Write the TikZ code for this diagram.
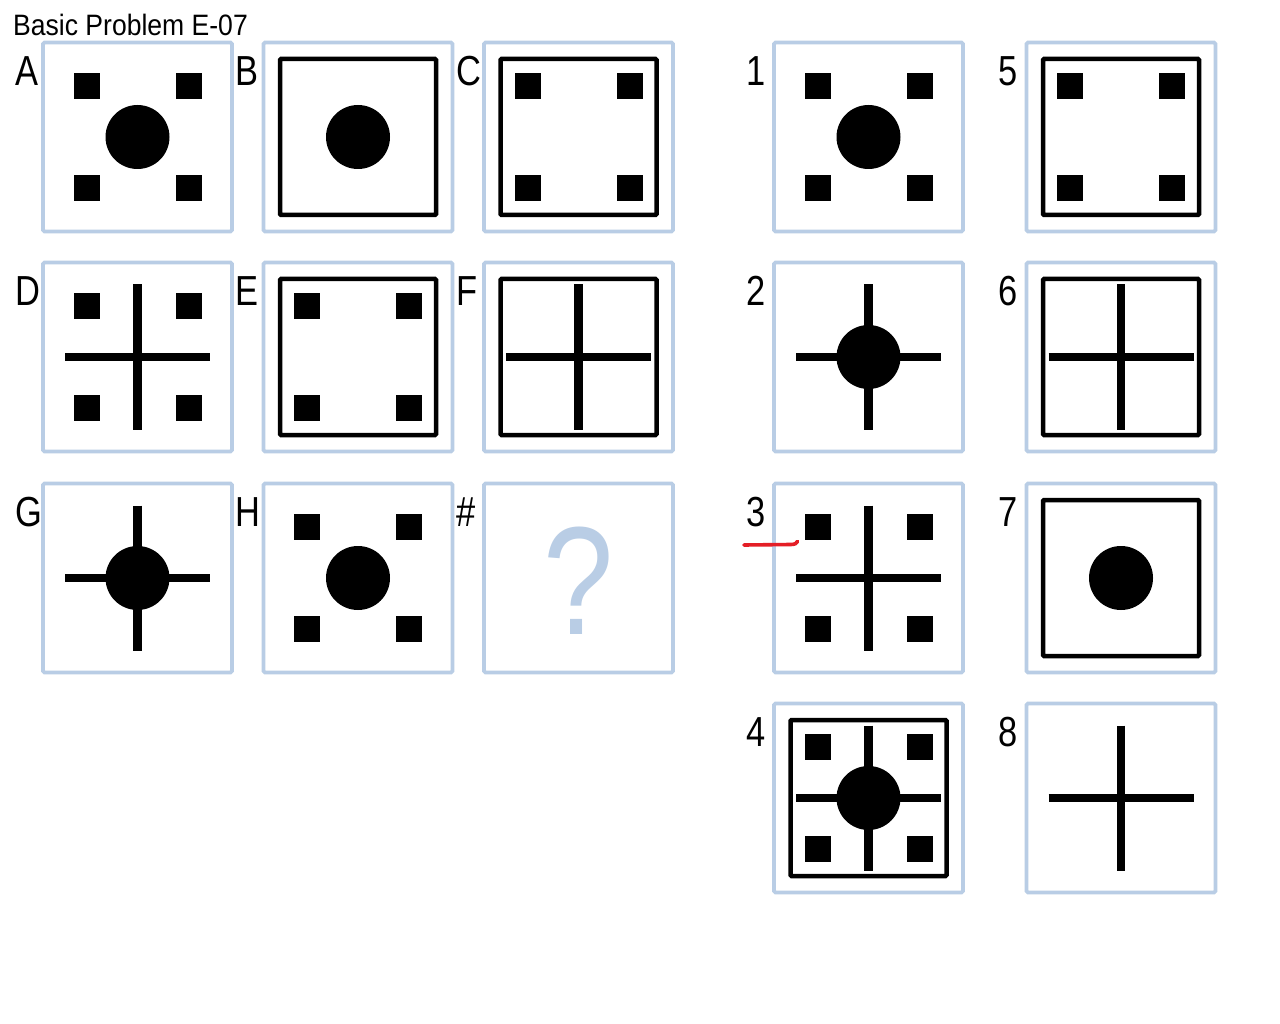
\documentclass[tikz,border=0pt]{standalone}
\usepackage{fontspec}
\newfontfamily\narrowsans[FakeStretch=0.82]{Liberation Sans}
\newfontfamily\titlesans[FakeStretch=0.9]{Liberation Sans}
\definecolor{pblue}{RGB}{185,205,229}
\definecolor{mred}{RGB}{228,30,38}
\tikzset{
  panel/.style={draw=pblue, line width=3.6pt, rounded corners=1.5pt, fill=white, minimum size=189pt, inner sep=0pt},
  innerframe/.style={draw=black, line width=4.5pt, rounded corners=1pt},
  bar/.style={draw=black, line width=8.5pt},
  lbl/.style={font=\narrowsans\fontsize{42}{48}\selectfont, anchor=base west, inner sep=0pt},
  titlelbl/.style={font=\titlesans\fontsize{29.5}{34}\selectfont, anchor=base west, inner sep=0pt},
  qmark/.style={font=\narrowsans\fontsize{154}{160}\selectfont, text=pblue, inner sep=0pt},
  redmark/.style={draw=mred, line width=3.6pt, line cap=round},
}
% panel: name, cx, cy, label
\newcommand\PanelBox[4]{%
  \node[panel] (#1) at (#2,#3) {};
  \node[lbl] (#1lbl) at ({#2-122.5},{#3-51.5}) {#4};}
\newcommand\SqFour[2]{%
  \foreach \dx in {-51,51}{\foreach \dy in {-51,51}{%
    \fill[black] ({#1+\dx-13},{#2+\dy-13}) rectangle ({#1+\dx+13},{#2+\dy+13});}}}
\newcommand\CrossBars[2]{%
  \draw[bar] ({#1-72.5},#2) -- ({#1+72.5},#2);
  \draw[bar] (#1,{#2-72.5}) -- (#1,{#2+72.5});}
\newcommand\BigDot[2]{\fill[black] (#1,#2) circle (32);}
\newcommand\InFrame[2]{\draw[innerframe] ({#1-78},{#2-78}) rectangle ({#1+78},{#2+78});}
\begin{document}
\begin{tikzpicture}[x=1pt,y=-1pt]
\useasboundingbox[fill=white] (0,0) rectangle (1280,1024);
\node[titlelbl] (title) at (13,36) {Basic Problem E-07};
% ---- row 1
\PanelBox{pA}{137.5}{137}{A}  \SqFour{137.5}{137} \BigDot{137.5}{137}
\PanelBox{pB}{358}{137}{B}    \InFrame{358}{137} \BigDot{358}{137}
\PanelBox{pC}{578.5}{137}{C}  \InFrame{578.5}{137} \SqFour{578.5}{137}
% ---- row 2
\PanelBox{pD}{137.5}{357}{D}  \SqFour{137.5}{357} \CrossBars{137.5}{357}
\PanelBox{pE}{358}{357}{E}    \InFrame{358}{357} \SqFour{358}{357}
\PanelBox{pF}{578.5}{357}{F}  \InFrame{578.5}{357} \CrossBars{578.5}{357}
% ---- row 3
\PanelBox{pG}{137.5}{578}{G}  \CrossBars{137.5}{578} \BigDot{137.5}{578}
\PanelBox{pH}{358}{578}{H}    \SqFour{358}{578} \BigDot{358}{578}
\PanelBox{pQ}{578.5}{578}{\#}
\node[qmark] (qm) at (578.5,581) {?};
% ---- answers
\PanelBox{a1}{868.5}{137}{1}  \SqFour{868.5}{137} \BigDot{868.5}{137}
\PanelBox{a5}{1121}{137}{5}   \InFrame{1121}{137} \SqFour{1121}{137}
\PanelBox{a2}{868.5}{357}{2}  \CrossBars{868.5}{357} \BigDot{868.5}{357}
\PanelBox{a6}{1121}{357}{6}   \InFrame{1121}{357} \CrossBars{1121}{357}
\PanelBox{a3}{868.5}{578}{3}  \SqFour{868.5}{578} \CrossBars{868.5}{578}
\PanelBox{a7}{1121}{578}{7}   \InFrame{1121}{578} \BigDot{1121}{578}
\PanelBox{a4}{868.5}{798}{4}  \InFrame{868.5}{798} \SqFour{868.5}{798} \CrossBars{868.5}{798} \BigDot{868.5}{798}
\PanelBox{a8}{1121}{798}{8}   \CrossBars{1121}{798}
% red mark
\draw[redmark] (744,545) -- (791,544.5) .. controls (795,544.3) and (796.5,543.5) .. (797.5,541.5);
\end{tikzpicture}
\end{document}
